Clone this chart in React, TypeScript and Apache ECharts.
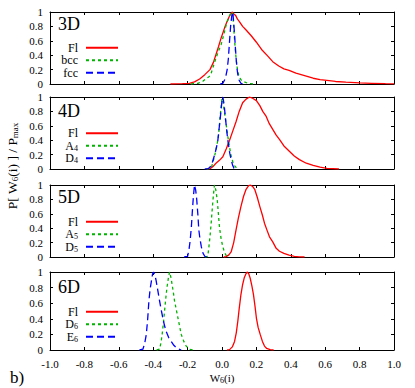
import React, { useEffect, useRef } from 'react';
import * as echarts from 'echarts';

const FONT = 'Liberation Serif';

// ---- 3D ----
const fl3D: number[][] = [
  [-0.30, 0], [-0.23, 0.005], [-0.19, 0.01], [-0.16, 0.03], [-0.13, 0.07], [-0.10, 0.13], [-0.07, 0.2],
  [-0.05, 0.3], [-0.035, 0.41], [-0.02, 0.52], [-0.005, 0.64], [0.015, 0.78], [0.03, 0.87], [0.045, 0.95],
  [0.06, 1.0], [0.07, 0.97], [0.08, 0.95], [0.09, 0.9], [0.1, 0.87], [0.12, 0.8], [0.14, 0.75], [0.17, 0.67],
  [0.2, 0.58], [0.23, 0.48], [0.265, 0.39], [0.295, 0.31], [0.33, 0.25], [0.36, 0.21], [0.39, 0.19],
  [0.43, 0.15], [0.46, 0.13], [0.49, 0.11], [0.53, 0.08], [0.57, 0.06], [0.61, 0.05], [0.66, 0.035],
  [0.72, 0.025], [0.8, 0.015], [0.87, 0.01], [0.95, 0.005], [1.0, 0.003],
];
const bcc3D: number[][] = [
  [-0.18, 0], [-0.14, 0.01], [-0.11, 0.04], [-0.09, 0.08], [-0.075, 0.1], [-0.063, 0.15], [-0.05, 0.25],
  [-0.035, 0.36], [-0.02, 0.46], [-0.005, 0.55], [0.01, 0.68], [0.025, 0.83], [0.04, 0.93], [0.05, 0.98],
  [0.06, 1.0], [0.065, 0.9], [0.07, 0.72], [0.075, 0.55], [0.082, 0.35], [0.09, 0.2], [0.098, 0.11],
  [0.11, 0.06], [0.12, 0.04], [0.15, 0.01], [0.18, 0],
];
const fcc3D: number[][] = [
  [-0.01, 0], [0.005, 0.01], [0.02, 0.08], [0.03, 0.2], [0.037, 0.35], [0.044, 0.6], [0.05, 0.8],
  [0.057, 0.95], [0.063, 1.0], [0.068, 0.85], [0.073, 0.69], [0.078, 0.5], [0.082, 0.36], [0.087, 0.22],
  [0.092, 0.13], [0.1, 0.05], [0.11, 0.01], [0.12, 0],
];

// ---- 4D ----
const fl4D: number[][] = [
  [-0.09, 0], [-0.07, 0.005], [-0.05, 0.04], [-0.035, 0.08], [-0.015, 0.12], [0.005, 0.17], [0.025, 0.28],
  [0.044, 0.4], [0.063, 0.53], [0.082, 0.66], [0.1, 0.8], [0.12, 0.92], [0.14, 0.97], [0.16, 1.0],
  [0.18, 0.98], [0.2, 0.95], [0.22, 0.88], [0.237, 0.8], [0.257, 0.73], [0.275, 0.63], [0.295, 0.55],
  [0.315, 0.47], [0.334, 0.41], [0.36, 0.32], [0.39, 0.25], [0.42, 0.18], [0.45, 0.13], [0.49, 0.08],
  [0.53, 0.05], [0.57, 0.025], [0.61, 0.01], [0.68, 0],
];
const a4: number[][] = [
  [-0.09, 0], [-0.063, 0.01], [-0.044, 0.17], [-0.03, 0.32], [-0.02, 0.47], [-0.01, 0.75], [0.0, 0.98],
  [0.005, 0.95], [0.015, 0.78], [0.024, 0.62], [0.034, 0.45], [0.044, 0.3], [0.053, 0.18], [0.063, 0.1],
  [0.075, 0.04], [0.09, 0],
];
const d4: number[][] = [
  [-0.1, 0], [-0.08, 0.005], [-0.065, 0.04], [-0.055, 0.1], [-0.04, 0.22], [-0.025, 0.38], [-0.01, 0.71],
  [0.0, 0.95], [0.005, 1.0], [0.012, 0.9], [0.02, 0.71], [0.028, 0.52], [0.035, 0.38], [0.045, 0.22],
  [0.053, 0.13], [0.062, 0.05], [0.07, 0.01], [0.08, 0],
];

// ---- 5D ----
const fl5D: number[][] = [
  [0.01, 0], [0.024, 0.005], [0.04, 0.03], [0.053, 0.07], [0.068, 0.2], [0.082, 0.38], [0.095, 0.54],
  [0.11, 0.7], [0.125, 0.84], [0.14, 0.94], [0.155, 0.99], [0.165, 1.0], [0.178, 0.98], [0.19, 0.94],
  [0.205, 0.83], [0.22, 0.7], [0.235, 0.58], [0.247, 0.47], [0.262, 0.37], [0.276, 0.28], [0.295, 0.21],
  [0.315, 0.12], [0.334, 0.08], [0.36, 0.05], [0.39, 0.025], [0.42, 0.01], [0.45, 0.003], [0.48, 0],
];
const a5: number[][] = [
  [-0.1, 0], [-0.083, 0.01], [-0.077, 0.12], [-0.07, 0.28], [-0.063, 0.47], [-0.057, 0.66], [-0.05, 0.86],
  [-0.044, 1.0], [-0.036, 0.93], [-0.028, 0.8], [-0.021, 0.6], [-0.015, 0.42], [-0.005, 0.25],
  [0.005, 0.14], [0.015, 0.06], [0.025, 0.02], [0.035, 0],
];
const d5: number[][] = [
  [-0.22, 0], [-0.2, 0.01], [-0.192, 0.1], [-0.185, 0.23], [-0.178, 0.42], [-0.173, 0.61], [-0.167, 0.82],
  [-0.16, 1.0], [-0.153, 0.93], [-0.147, 0.8], [-0.14, 0.58], [-0.135, 0.38], [-0.128, 0.25],
  [-0.12, 0.14], [-0.11, 0.05], [-0.1, 0.01], [-0.09, 0],
];

// ---- 6D ----
const fl6D: number[][] = [
  [0.03, 0], [0.044, 0.005], [0.06, 0.04], [0.073, 0.11], [0.083, 0.22], [0.092, 0.37], [0.1, 0.53],
  [0.11, 0.71], [0.12, 0.84], [0.13, 0.93], [0.14, 0.98], [0.147, 1.0], [0.155, 0.98], [0.164, 0.92],
  [0.174, 0.82], [0.183, 0.71], [0.192, 0.56], [0.2, 0.41], [0.21, 0.29], [0.222, 0.2], [0.235, 0.11],
  [0.247, 0.05], [0.26, 0.02], [0.28, 0.005], [0.3, 0],
];
const d6: number[][] = [
  [-0.38, 0], [-0.363, 0.01], [-0.355, 0.09], [-0.348, 0.2], [-0.34, 0.36], [-0.334, 0.5], [-0.327, 0.66],
  [-0.32, 0.8], [-0.312, 0.92], [-0.305, 1.0], [-0.297, 0.93], [-0.29, 0.84], [-0.283, 0.74],
  [-0.276, 0.63], [-0.266, 0.52], [-0.256, 0.41], [-0.246, 0.3], [-0.237, 0.2], [-0.222, 0.11],
  [-0.208, 0.05], [-0.19, 0.01], [-0.17, 0],
];
const e6: number[][] = [
  [-0.48, 0], [-0.46, 0.01], [-0.45, 0.08], [-0.44, 0.2], [-0.432, 0.4], [-0.425, 0.63], [-0.418, 0.78],
  [-0.41, 0.89], [-0.404, 0.97], [-0.398, 1.0], [-0.39, 0.96], [-0.383, 0.89], [-0.373, 0.76],
  [-0.363, 0.63], [-0.354, 0.52], [-0.344, 0.41], [-0.335, 0.32], [-0.325, 0.24], [-0.31, 0.16],
  [-0.295, 0.11], [-0.28, 0.06], [-0.266, 0.03], [-0.25, 0.01], [-0.237, 0],
];

const panelLabels = ['3D', '4D', '5D', '6D'];
const seriesNames = [
  ['Fl', 'bcc', 'fcc'],
  ['Fl', 'A4', 'D4'],
  ['Fl', 'A5', 'D5'],
  ['Fl', 'D6', 'E6'],
];
const seriesData = [
  [fl3D, bcc3D, fcc3D],
  [fl4D, a4, d4],
  [fl5D, a5, d5],
  [fl6D, d6, e6],
];

// layout
const gridTops = [12, 97, 185, 272];
const gridHeights = [72, 72, 72, 78];
const legendTops = [41.5, 127, 215.5, 305.5];
const titleTops = [14.5, 101.5, 187.5, 277.5];

const colors = ['#ff0000', '#00b400', '#0000ff'];
const dashes: any[] = ['solid', [3, 3], [7, 4]];

const subRich = {
  s: { fontFamily: FONT, fontSize: 8, verticalAlign: 'bottom', lineHeight: 6, color: '#000' },
};

function buildOption() {
  const grid: any[] = [];
  const xAxis: any[] = [];
  const yAxis: any[] = [];
  const series: any[] = [];
  const legend: any[] = [];
  const title: any[] = [];
  const axisLine = { show: true, onZero: false, lineStyle: { color: '#000', width: 1 } };
  for (let i = 0; i < 4; i++) {
    grid.push({ left: 50, right: 21, top: gridTops[i], height: gridHeights[i] });
    const xBase = {
      type: 'value', gridIndex: i, min: -1, max: 1, interval: 0.2,
      axisLine, splitLine: { show: false },
      axisTick: { show: true, inside: true, length: 3, lineStyle: { color: '#000' } },
    };
    xAxis.push({
      ...xBase, position: 'bottom',
      axisLabel: {
        show: i === 3, fontFamily: FONT, fontSize: 11, color: '#000', margin: 8,
        formatter: (v: number) => v.toFixed(1),
      },
      ...(i === 3
        ? {
            name: 'W{s|6}(i)', nameLocation: 'middle', nameGap: 22,
            nameTextStyle: { fontFamily: FONT, fontSize: 11, color: '#000', lineHeight: 12, rich: subRich },
          }
        : {}),
    });
    xAxis.push({ ...xBase, position: 'top', axisLabel: { show: false } });
    const yBase = {
      type: 'value', gridIndex: i, min: 0, max: 1, interval: 0.2,
      axisLine, splitLine: { show: false },
      axisTick: { show: true, inside: true, length: 3, lineStyle: { color: '#000' } },
    };
    yAxis.push({
      ...yBase, position: 'left',
      axisLabel: {
        fontFamily: FONT, fontSize: 11, color: '#000', margin: 7,
        formatter: (v: number) => (v === 0 ? '0' : v === 1 ? '1' : v.toFixed(1)),
      },
    });
    yAxis.push({ ...yBase, position: 'right', axisLabel: { show: false } });

    for (let k = 0; k < 3; k++) {
      series.push({
        type: 'line', name: seriesNames[i][k], xAxisIndex: 2 * i, yAxisIndex: 2 * i,
        data: seriesData[i][k], showSymbol: false, symbol: 'none', smooth: false,
        lineStyle: { color: colors[k], width: 1.3, type: dashes[k] },
        itemStyle: { color: colors[k] },
        z: 2 + k,
      });
    }
    legend.push({
      data: seriesNames[i], orient: 'vertical', left: 50, top: legendTops[i], align: 'right',
      padding: 0, itemGap: 0, itemWidth: 32, itemHeight: 10, selectedMode: false,
      itemStyle: { color: 'rgba(0,0,0,0)', borderWidth: 0, opacity: 0 },
      formatter: (name: string) => (/\d/.test(name.slice(1)) ? `${name[0]}{s|${name.slice(1)}}` : name),
      textStyle: {
        fontFamily: FONT, fontSize: 12, color: '#000', width: 28, align: 'right',
        lineHeight: 12.5, padding: [0, 3, 0, 0], rich: subRich,
      },
    });
    title.push({
      text: panelLabels[i], left: 58, top: titleTops[i], padding: 0,
      textStyle: { fontFamily: FONT, fontSize: 18, fontWeight: 'normal', color: '#000' },
    });
  }
  return {
    animation: false,
    backgroundColor: '#fff',
    textStyle: { fontFamily: FONT },
    grid, xAxis, yAxis, series, legend, title,
    graphic: [
      {
        type: 'text', x: 12, y: 166, rotation: Math.PI / 2,
        style: {
          text: 'P[ W{s|6}(i) ] / P{s|max}',
          fontFamily: FONT, fontSize: 13.5, fill: '#000', lineHeight: 15,
          align: 'center', verticalAlign: 'middle',
          rich: { s: { fontFamily: FONT, fontSize: 9, verticalAlign: 'bottom', lineHeight: 7, fill: '#000' } },
        },
      },
      {
        type: 'text', x: 10, y: 377,
        style: { text: 'b)', fontFamily: FONT, fontSize: 17, fill: '#000', align: 'left', verticalAlign: 'middle' },
      },
    ],
  };
}

export default function App() {
  const ref = useRef<HTMLDivElement>(null);
  useEffect(() => {
    document.body.style.margin = '0';
    const chart = echarts.init(ref.current!, null, { renderer: 'svg' });
    chart.setOption(buildOption() as any);
    return () => chart.dispose();
  }, []);
  return <div ref={ref} style={{ width: 415, height: 388 }} />;
}
